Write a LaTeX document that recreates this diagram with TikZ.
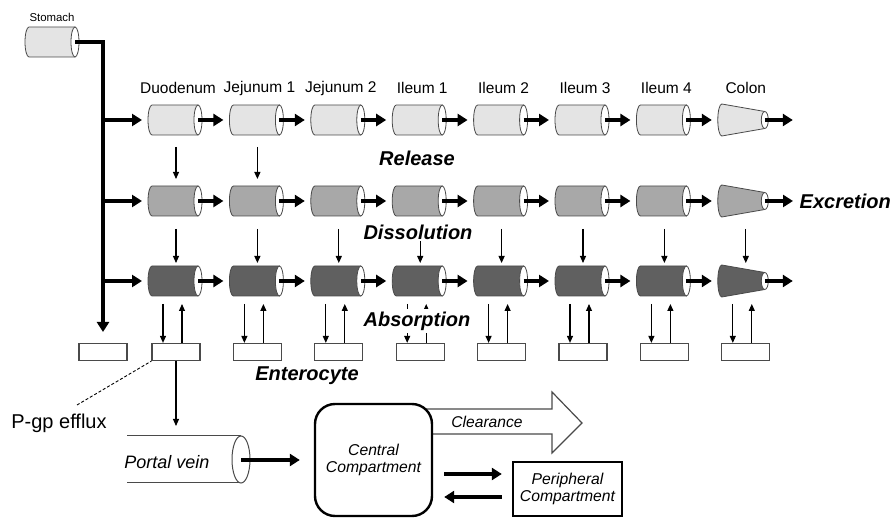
\documentclass[tikz,border=0pt]{standalone}
\usepackage{fontspec}
\setmainfont{Liberation Sans}
\usetikzlibrary{arrows.meta}
\definecolor{gA}{HTML}{E4E4E4}
\definecolor{gB}{HTML}{A8A8A8}
\definecolor{gC}{HTML}{606060}
\definecolor{edgec}{HTML}{4A4A4A}
\tikzset{
 thickarr/.style={line width=3.6pt, -{Triangle[length=10pt,width=12pt]}},
 thinarr/.style={line width=1.1pt, -{Triangle[length=7pt,width=6pt]}},
 cylline/.style={draw=edgec, line width=0.8pt},
 colhead/.style={font=\fontsize{15.5}{18}\selectfont, inner sep=0pt},
 biglabel/.style={font=\fontsize{20}{24}\selectfont\bfseries\itshape, fill=white, inner sep=1.5pt},
 entbox/.style={draw=edgec, line width=1.2pt, minimum width=48pt, minimum height=17pt, inner sep=0pt},
 compbox/.style={draw, line width=2.4pt, align=center, inner sep=0pt, font=\fontsize{15.7}{17}\selectfont\itshape},
}
\newcommand{\gcyl}[4]{%
\begin{scope}[shift={(#2,#3)}]
\filldraw[cylline, fill=#4] (22,15) -- (-24,15) arc[start angle=90, end angle=270, x radius=4, y radius=15] -- (22,-15) -- cycle;
\filldraw[cylline, fill=white] (22,0) ellipse[x radius=4, y radius=15];
\coordinate (#1-r) at (22,0);
\coordinate (#1-l) at (-28,0);
\coordinate (#1-t) at (0,15);
\coordinate (#1-b) at (0,-15);
\end{scope}}
\newcommand{\gcone}[4]{%
\begin{scope}[shift={(#2,#3)}]
\filldraw[cylline, fill=#4] (19,8.5) -- (-24,16) arc[start angle=90, end angle=270, x radius=4, y radius=16] -- (19,-8.5) -- cycle;
\filldraw[cylline, fill=white] (19,0) ellipse[x radius=3.5, y radius=8.5];
\coordinate (#1-r) at (19,0);
\coordinate (#1-l) at (-28,0);
\coordinate (#1-t) at (0,15);
\coordinate (#1-b) at (0,-15);
\end{scope}}
\begin{document}
\begin{tikzpicture}[x=1pt,y=1pt]
\useasboundingbox (0,0) rectangle (895,-518);
% stomach
\node[font=\fontsize{11.4}{13}\selectfont, inner sep=0pt] (stlab) at (52,-17) {Stomach};
\gcyl{st}{53}{-42}{gA}
\coordinate (trunkend) at (103,-332);
\draw[thickarr] (st-r) -| (trunkend);
% columns
\foreach \i/\lab in {0/Duodenum,1/Jejunum 1,2/Jejunum 2,3/Ileum 1,4/Ileum 2,5/Ileum 3,6/Ileum 4}{
  \pgfmathsetmacro{\cx}{176+81.4*\i}
  \node[colhead] (h\i) at (\cx+2,-88) {\lab};
  \gcyl{a\i}{\cx}{-120}{gA}
  \gcyl{b\i}{\cx}{-201}{gB}
  \gcyl{c\i}{\cx}{-281}{gC}
  \node[entbox] (e\i) at (\cx,-352) {};
}
\pgfmathsetmacro{\cx}{176+81.4*7}
\node[colhead] (h7) at (\cx,-88) {Colon};
\gcone{a7}{\cx}{-120}{gA}
\gcone{b7}{\cx}{-201}{gB}
\gcone{c7}{\cx}{-281}{gC}
\node[entbox] (e7) at (\cx,-352) {};
\node[entbox] (ep) at (103,-352) {};
% branch arrows from trunk
\foreach \r/\y in {a/-120,b/-201,c/-281}{
  \coordinate (j\r) at (103,\y);
  \draw[thickarr] (j\r) -- ([xshift=-6pt]\r0-l);
}
% horizontal arrows
\foreach \i [evaluate=\i as \j using int(\i+1)] in {0,...,6}{
  \draw[thickarr] (a\i-r) -- ([xshift=-6pt]a\j-l);
  \draw[thickarr] (b\i-r) -- ([xshift=-6pt]b\j-l);
  \draw[thickarr] (c\i-r) -- ([xshift=-6pt]c\j-l);
}
\coordinate (aend) at ([xshift=28pt]a7-r);
\coordinate (cend) at ([xshift=28pt]c7-r);
\draw[thickarr] (a7-r) -- (aend);
\draw[thickarr] (c7-r) -- (cend);
\node[biglabel, anchor=west, fill=none] (excr) at (798,-201) {Excretion};
\draw[thickarr] (b7-r) -- ([xshift=-5pt]excr.west);
% release arrows
\foreach \i in {0,1}{
  \draw[thinarr] ([yshift=-12pt]a\i-b) -- ([yshift=7pt]b\i-t);
}
% dissolution arrows
\foreach \i in {0,...,7}{
  \draw[thinarr] ([yshift=-13pt]b\i-b) -- ([yshift=3pt]c\i-t);
}
% absorption arrows
\foreach \i in {0,...,7}{
  \draw[thinarr] ([xshift=-13pt,yshift=-8pt]c\i-b) -- ([xshift=-13pt]e\i.north);
  \draw[thinarr] ([xshift=6pt]e\i.north) -- ([xshift=6pt,yshift=-8pt]c\i-b);
}
% labels
\node[biglabel, fill=none] (rel) at (417,-158) {Release};
\node[biglabel] (dis) at (418,-232) {Dissolution};
\node[biglabel, inner ysep=3pt] (abs) at (417,-321) {Absorption};
\node[biglabel] (ent) at (307,-376) {Enterocyte};
% bottom
\node[font=\fontsize{20}{24}\selectfont, inner sep=0pt] (pgp) at (59,-423) {P-gp efflux};
\coordinate (dstart) at (77,-405);
\draw[dashed, line width=0.9pt, dash pattern=on 3pt off 2pt] (dstart) -- (e0.south west);
\coordinate (pvtop) at (176,-426);
\draw[thinarr] (e0.south) -- (pvtop);
% portal vein
\draw[line width=1pt, edgec] (127,-436) -- (241,-436) (127,-483) -- (241,-483);
\filldraw[line width=1pt, draw=edgec, fill=white] (241,-459.5) ellipse[x radius=9, y radius=23.5];
\coordinate (pv-r) at (241,-460);
\node[font=\fontsize{18}{20}\selectfont\itshape, inner sep=0pt] (pvlab) at (167,-462) {Portal vein};
% clearance arrow
\draw[line width=1.2pt, draw=edgec, fill=white, line join=miter] (415,-409) -- (552,-409) -- (552,-392) -- (582,-423) -- (552,-453) -- (552,-434) -- (415,-434);
\node[font=\fontsize{15.6}{18}\selectfont\itshape, inner sep=0pt] (clr) at (487,-422) {Clearance};
% central compartment
\node[compbox, rounded corners=20pt, fill=white, minimum width=117pt, minimum height=112pt] (cc) at (373.5,-460) {Central\\Compartment};
\draw[thickarr] (pv-r) -- ([xshift=-14pt]cc.west);
% peripheral compartment
\node[compbox, fill=white, minimum width=109pt, minimum height=54pt] (pc) at (567.5,-489) {Peripheral\\Compartment};
\draw[thickarr, line width=3.3pt] ([xshift=11pt,yshift=-14pt]cc.east) -- ([xshift=-10pt,yshift=15pt]pc.west);
\draw[thickarr, line width=3.3pt] ([xshift=-10pt,yshift=-8pt]pc.west) -- ([xshift=11pt,yshift=-37pt]cc.east);
\end{tikzpicture}
\end{document}
